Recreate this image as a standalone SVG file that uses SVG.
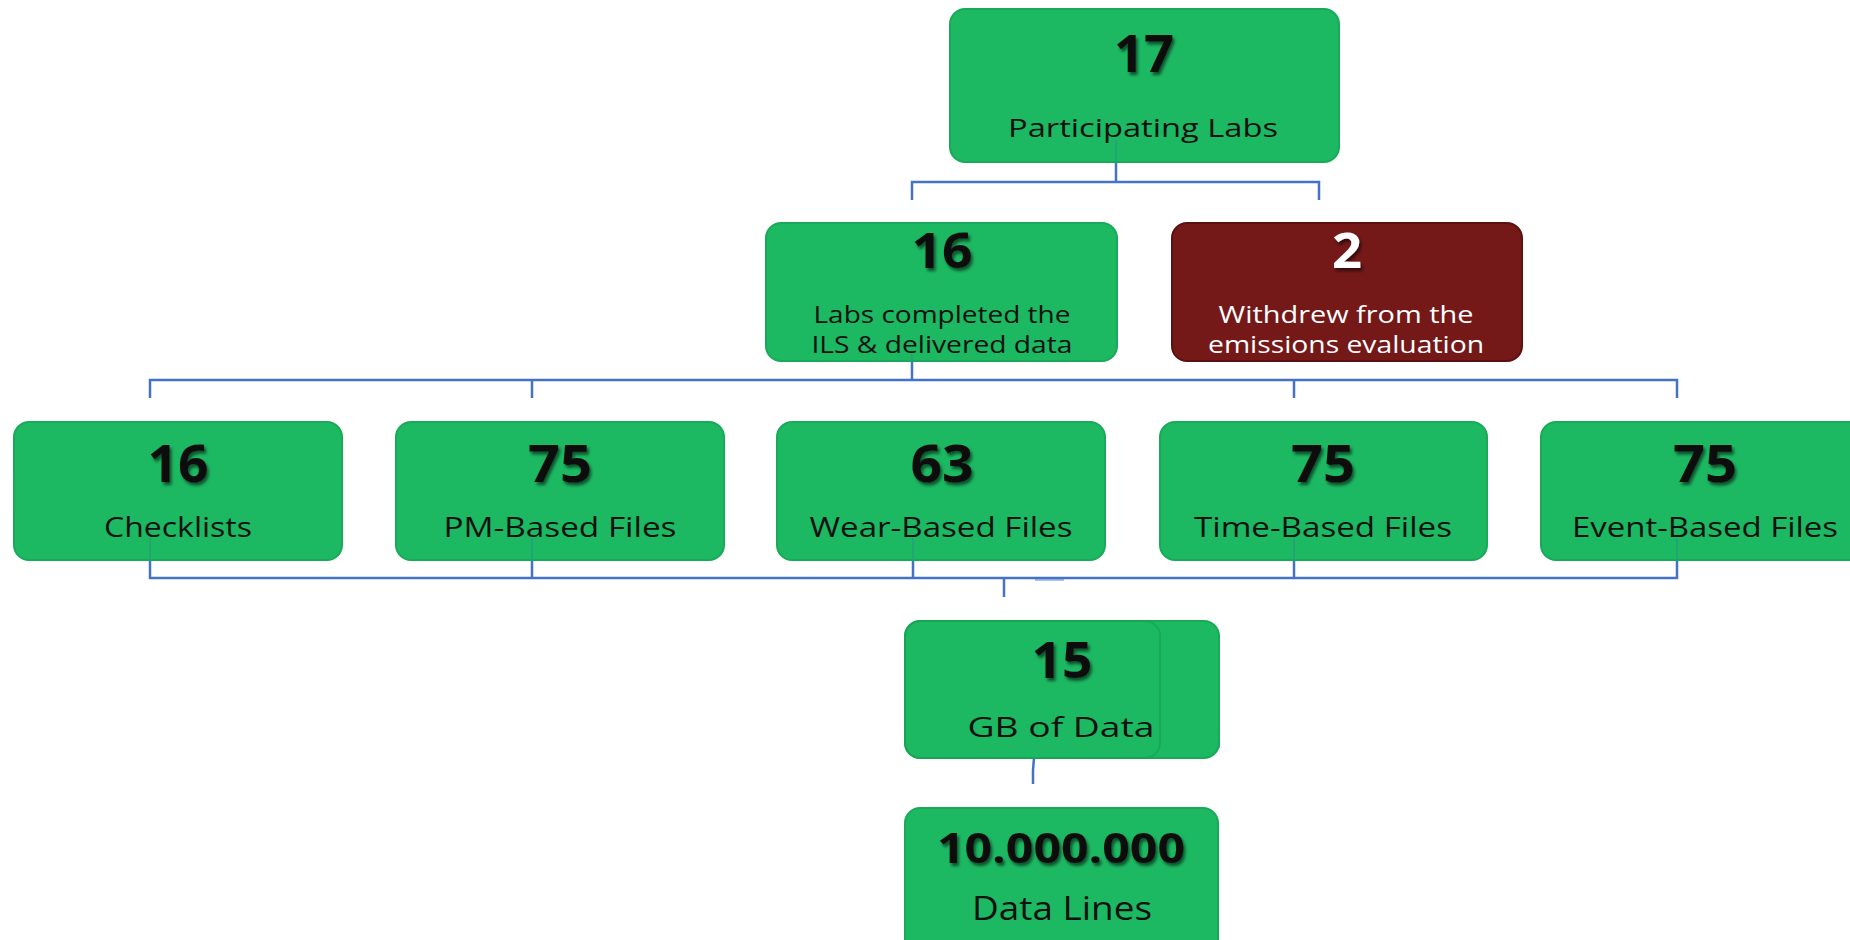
<svg xmlns="http://www.w3.org/2000/svg" width="1850" height="940" viewBox="0 0 1850 940">
<defs>
<filter id="sh" x="-20%" y="-20%" width="140%" height="150%">
<feDropShadow dx="2" dy="3" stdDeviation="1.6" flood-color="#000" flood-opacity="0.55"/>
</filter>
<style>
.box{fill:#1cb862;stroke:#18aa58;stroke-width:2}
.red{fill:#741818;stroke:#5c1010;stroke-width:2}
.num{font-family:"Open Sans","Noto Sans",sans-serif;font-weight:bold;fill:#111;text-anchor:middle;filter:url(#sh)}
.lbl{font-family:"Open Sans","Noto Sans",sans-serif;fill:#111;text-anchor:middle}
.wh{fill:#fff}
.con{fill:none;stroke:#4472c4;stroke-width:2.5}
.inner{fill:none;stroke:#2f7f9a;stroke-width:2;opacity:0.35}
</style>
</defs>
<rect width="1850" height="940" fill="#fff"/>
<g id="connectors">
<path class="con" d="M1116,162 V182 M912,200 V182 H1319 V200"/>
<path class="con" d="M912,361 V380 M150,398 V380 H1677 V398 M532,380 V398 M1294,380 V398"/>
<path class="con" d="M150,560 V578 H1677 V560 M532,560 V578 M913,560 V578 M1294,560 V578 M1004,578 V597"/>
<path class="con" style="stroke-width:1.5;opacity:0.6" d="M1035,580 H1064"/>
<path class="con" d="M1034,758 L1033,770 V784"/>
<path class="con" style="stroke-width:1.5" d="M1219,640 V748"/>
</g>
<g id="n17">
<rect class="box" x="950" y="9" width="389" height="153" rx="15"/>
<text class="num" x="1144" y="72" font-size="52" textLength="60" lengthAdjust="spacingAndGlyphs">17</text>
<text class="lbl" x="1143" y="137" font-size="26" textLength="270" lengthAdjust="spacingAndGlyphs">Participating Labs</text>
</g>
<g id="n16">
<rect class="box" x="766" y="223" width="351" height="138" rx="15"/>
<text class="num" x="942" y="268" font-size="49" textLength="61" lengthAdjust="spacingAndGlyphs">16</text>
<text class="lbl" x="942" y="323" font-size="24" textLength="257" lengthAdjust="spacingAndGlyphs">Labs completed the</text>
<text class="lbl" x="942" y="353" font-size="24" textLength="261" lengthAdjust="spacingAndGlyphs">ILS &amp; delivered data</text>
</g>
<g id="n2">
<rect class="red" x="1172" y="223" width="350" height="138" rx="15"/>
<text class="num wh" x="1347" y="268" font-size="49" textLength="30" lengthAdjust="spacingAndGlyphs">2</text>
<text class="lbl wh" x="1346" y="323" font-size="24" textLength="255" lengthAdjust="spacingAndGlyphs">Withdrew from the</text>
<text class="lbl wh" x="1346" y="353" font-size="24" textLength="276" lengthAdjust="spacingAndGlyphs">emissions evaluation</text>
</g>
<g id="checklists">
<rect class="box" x="14" y="422" width="328" height="138" rx="15"/>
<text class="num" x="178" y="482" font-size="52" textLength="61" lengthAdjust="spacingAndGlyphs">16</text>
<text class="lbl" x="178" y="537" font-size="27" textLength="148" lengthAdjust="spacingAndGlyphs">Checklists</text>
</g>
<g id="pm">
<rect class="box" x="396" y="422" width="328" height="138" rx="15"/>
<text class="num" x="560" y="482" font-size="52" textLength="64" lengthAdjust="spacingAndGlyphs">75</text>
<text class="lbl" x="560" y="537" font-size="27" textLength="233" lengthAdjust="spacingAndGlyphs">PM-Based Files</text>
</g>
<g id="wear">
<rect class="box" x="777" y="422" width="328" height="138" rx="15"/>
<text class="num" x="942" y="482" font-size="52" textLength="63" lengthAdjust="spacingAndGlyphs">63</text>
<text class="lbl" x="941" y="537" font-size="27" textLength="263" lengthAdjust="spacingAndGlyphs">Wear-Based Files</text>
</g>
<g id="time">
<rect class="box" x="1160" y="422" width="327" height="138" rx="15"/>
<text class="num" x="1323" y="482" font-size="52" textLength="64" lengthAdjust="spacingAndGlyphs">75</text>
<text class="lbl" x="1323" y="537" font-size="27" textLength="258" lengthAdjust="spacingAndGlyphs">Time-Based Files</text>
</g>
<g id="event">
<rect class="box" x="1541" y="422" width="330" height="138" rx="15"/>
<text class="num" x="1705" y="482" font-size="52" textLength="64" lengthAdjust="spacingAndGlyphs">75</text>
<text class="lbl" x="1705" y="537" font-size="27" textLength="266" lengthAdjust="spacingAndGlyphs">Event-Based Files</text>
</g>
<g id="gb">
<rect class="box" x="905" y="621" width="314" height="137" rx="15"/>
<rect x="905" y="621" width="255" height="137" rx="15" fill="none" stroke="#17a052" stroke-width="2" opacity="0.6"/>
<text class="num" x="1062" y="678" font-size="51" textLength="61" lengthAdjust="spacingAndGlyphs">15</text>
<text class="lbl" x="1061" y="737" font-size="28" textLength="187" lengthAdjust="spacingAndGlyphs">GB of Data</text>
</g>
<g id="lines">
<rect class="box" x="905" y="808" width="313" height="160" rx="15"/>
<text class="num" x="1061" y="863" font-size="41" textLength="248" lengthAdjust="spacingAndGlyphs">10.000.000</text>
<text class="lbl" x="1062" y="920" font-size="33" textLength="180" lengthAdjust="spacingAndGlyphs">Data Lines</text>
</g>
<g id="inner-lines">
<path class="inner" d="M1116,140 V161 M912,354 V360 M150,538 V559 M532,538 V559 M913,538 V559 M1294,538 V559 M1677,538 V559"/>
</g>
</svg>
